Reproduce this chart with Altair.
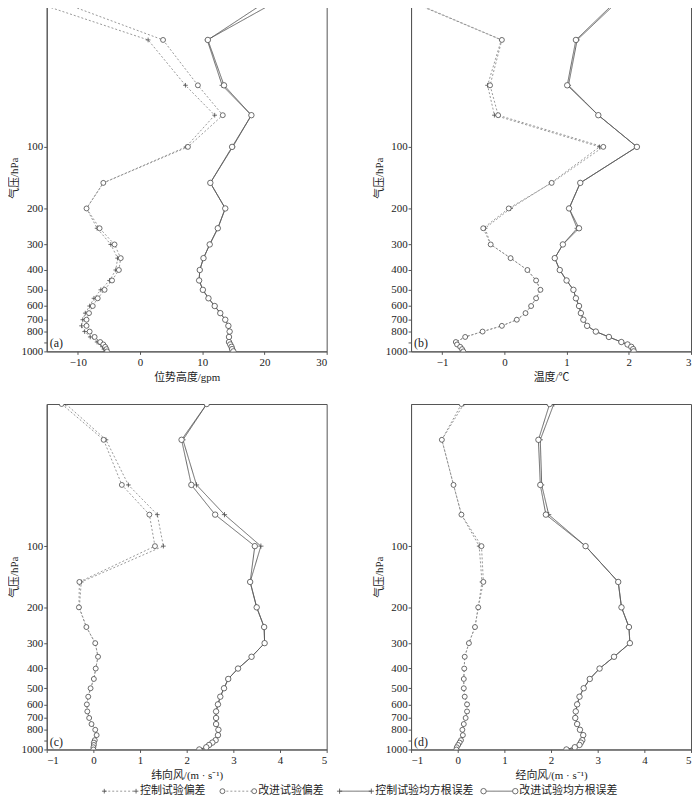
import altair as alt
import pandas as pd

# ---------------- data ----------------
levels = [20, 30, 50, 70, 100, 150, 200, 250, 300, 350, 400, 450, 500, 550,
          600, 650, 700, 750, 800, 850, 900, 925, 950, 975, 1000]

series_names = ["控制试验偏差", "改进试验偏差", "控制试验均方根误差", "改进试验均方根误差"]

# (a) geopotential height (gpm)
ctrl_bias_a = [-16.1, 1.3, 7.3, 12.0, 7.4, -5.9, -8.6, -6.9, -4.7, -3.6, -3.9, -4.9, -6.3, -7.4,
               -8.1, -8.8, -9.2, -9.4, -8.9, -8.0, -6.9, -6.3, -6.0, -5.8, -5.6]
new_bias_a = [-11.9, 3.7, 9.3, 13.3, 7.7, -5.9, -8.6, -6.5, -4.1, -3.1, -3.4, -4.5, -5.7, -6.8,
              -7.6, -8.2, -8.6, -8.6, -8.1, -7.3, -6.4, -5.9, -5.6, -5.4, -5.3]
ctrl_rmse_a = [21.2, 10.8, 13.2, 17.9, 14.9, 11.3, 13.7, 12.5, 11.2, 10.2, 9.6, 9.5, 10.1, 11.0,
               12.0, 12.9, 13.7, 14.2, 14.4, 14.3, 14.3, 14.5, 14.7, 14.8, 15.0]
new_rmse_a = [19.7, 10.9, 13.5, 17.9, 14.8, 11.3, 13.7, 12.5, 11.2, 10.2, 9.6, 9.5, 10.1, 11.0,
              12.0, 12.9, 13.7, 14.2, 14.4, 14.3, 14.3, 14.5, 14.7, 14.8, 15.0]

# (b) temperature (degC)
ctrl_bias_b = [-1.42, -0.05, -0.27, -0.16, 1.53, 0.75, 0.10, -0.31, -0.22, 0.10, 0.37, 0.51, 0.58, 0.51,
               0.43, 0.34, 0.20, -0.04, -0.35, -0.63, -0.78, -0.76, -0.71, -0.68, -0.66]
new_bias_b = [-1.40, -0.04, -0.23, -0.10, 1.59, 0.76, 0.07, -0.34, -0.22, 0.10, 0.37, 0.51, 0.58, 0.51,
              0.43, 0.34, 0.20, -0.04, -0.35, -0.63, -0.78, -0.76, -0.71, -0.68, -0.66]
ctrl_rmse_b = [1.78, 1.17, 1.03, 1.51, 2.13, 1.22, 1.04, 1.17, 0.94, 0.81, 0.89, 1.00, 1.11, 1.15,
               1.20, 1.23, 1.27, 1.33, 1.47, 1.68, 1.88, 1.98, 2.04, 2.07, 2.08]
new_rmse_b = [1.75, 1.15, 1.01, 1.51, 2.13, 1.22, 1.04, 1.20, 0.94, 0.81, 0.89, 1.00, 1.11, 1.15,
              1.20, 1.23, 1.27, 1.33, 1.47, 1.68, 1.88, 1.98, 2.04, 2.07, 2.08]

# (c) zonal wind (m/s)
ctrl_bias_c = [-0.59, 0.27, 0.75, 1.37, 1.50, -0.26, -0.30, -0.15, 0.04, 0.10, 0.05, 0.01, -0.06, -0.11,
               -0.14, -0.13, -0.09, -0.04, 0.04, 0.07, 0.03, 0.01, 0.01, 0.00, 0.00]
new_bias_c = [-0.68, 0.22, 0.61, 1.20, 1.32, -0.30, -0.31, -0.15, 0.04, 0.10, 0.05, 0.01, -0.06, -0.11,
              -0.14, -0.13, -0.09, -0.04, 0.04, 0.07, 0.03, 0.01, 0.01, 0.00, 0.00]
ctrl_rmse_c = [2.43, 1.92, 2.21, 2.81, 3.59, 3.36, 3.50, 3.66, 3.67, 3.39, 3.10, 2.89, 2.80, 2.72,
               2.67, 2.63, 2.63, 2.63, 2.68, 2.67, 2.62, 2.55, 2.48, 2.42, 2.27]
new_rmse_c = [2.43, 1.89, 2.10, 2.61, 3.46, 3.36, 3.50, 3.66, 3.67, 3.39, 3.10, 2.89, 2.80, 2.72,
              2.67, 2.63, 2.63, 2.63, 2.68, 2.67, 2.62, 2.55, 2.48, 2.42, 2.27]

# (d) meridional wind (m/s)
ctrl_bias_d = [0.13, -0.34, -0.09, 0.08, 0.46, 0.52, 0.44, 0.37, 0.24, 0.15, 0.14, 0.13, 0.13, 0.15,
               0.20, 0.20, 0.17, 0.13, 0.10, 0.11, 0.07, 0.04, 0.01, -0.02, -0.03]
new_bias_d = [0.08, -0.34, -0.09, 0.08, 0.51, 0.55, 0.44, 0.37, 0.24, 0.15, 0.14, 0.13, 0.13, 0.15,
              0.20, 0.20, 0.17, 0.13, 0.10, 0.11, 0.07, 0.04, 0.01, -0.02, -0.03]
ctrl_rmse_d = [2.06, 1.77, 1.80, 1.95, 2.74, 3.44, 3.51, 3.67, 3.69, 3.35, 3.04, 2.83, 2.70, 2.61,
               2.56, 2.53, 2.52, 2.56, 2.62, 2.69, 2.67, 2.64, 2.61, 2.51, 2.33]
new_rmse_d = [1.97, 1.73, 1.77, 1.89, 2.74, 3.44, 3.51, 3.67, 3.69, 3.35, 3.04, 2.83, 2.70, 2.61,
              2.56, 2.53, 2.52, 2.56, 2.62, 2.69, 2.67, 2.64, 2.61, 2.51, 2.33]

panel_tags = ["(a)", "(b)", "(c)", "(d)"]
x_titles = ["位势高度/gpm", "温度/℃", "纬向风/(m · s⁻¹)", "经向风/(m · s⁻¹)"]
x_domains = [[-15, 30], [-1.5, 3], [-1, 5], [-1, 5]]
x_ticks = [[-10, 0, 10, 20, 30], [-1, 0, 1, 2, 3], [-1, 0, 1, 2, 3, 4, 5], [-1, 0, 1, 2, 3, 4, 5]]
y_ticks = [100, 200, 300, 400, 500, 600, 700, 800, 900, 1000]
y_title = "气压/hPa"

panel_series = [
    [ctrl_bias_a, new_bias_a, ctrl_rmse_a, new_rmse_a],
    [ctrl_bias_b, new_bias_b, ctrl_rmse_b, new_rmse_b],
    [ctrl_bias_c, new_bias_c, ctrl_rmse_c, new_rmse_c],
    [ctrl_bias_d, new_bias_d, ctrl_rmse_d, new_rmse_d],
]

# ---------------- styles ----------------
FONT = "'Liberation Serif', 'Noto Sans CJK SC', serif"
W = 282
H_ROWS = [350, 348]
line_colors = ["#8c8c8c", "#8c8c8c", "#555555", "#555555"]
dashes = [[2, 2], [2, 2], [1, 0], [1, 0]]
PLUS = "M -1 0 L 1 0 M 0 -1 L 0 1"
shapes = [PLUS, "circle", PLUS, "circle"]
marker_sizes = [22, 30, 22, 30]


def panel(i, h):
    rows = []
    for s, vals in zip(series_names, panel_series[i]):
        for p, v in zip(levels, vals):
            rows.append({"series": s, "p": p, "v": v})
    df = pd.DataFrame(rows)
    x = alt.X("v:Q", scale=alt.Scale(domain=x_domains[i], nice=False, zero=False),
              axis=alt.Axis(values=x_ticks[i], title=x_titles[i], format="d",
                            grid=False, tickSize=3, labelPadding=2, titlePadding=4))
    y = alt.Y("p:Q", scale=alt.Scale(type="log", domain=[20, 1000], reverse=True, nice=False),
              axis=alt.Axis(values=y_ticks, title=y_title, format="d", grid=False,
                            tickSize=3, labelPadding=1, titlePadding=1))
    color = alt.Color("series:N", scale=alt.Scale(domain=series_names, range=line_colors), legend=None)
    dash = alt.StrokeDash("series:N", scale=alt.Scale(domain=series_names, range=dashes), legend=None)
    shp = alt.Shape("series:N", scale=alt.Scale(domain=series_names, range=shapes), legend=None)
    size = alt.Size("series:N", scale=alt.Scale(domain=series_names, range=marker_sizes), legend=None)
    lines = alt.Chart(df).mark_line(strokeWidth=0.9, clip=True).encode(
        x=x, y=y, color=color, strokeDash=dash, detail="series:N", order="p:Q")
    pts = alt.Chart(df).mark_point(fill="white", fillOpacity=1, filled=False, stroke="#4a4a4a",
                                   strokeWidth=0.8, opacity=1, clip=True).encode(
        x=x, y=y, shape=shp, size=size)
    tag = alt.Chart(pd.DataFrame({"t": [panel_tags[i]]})).mark_text(
        align="left", baseline="bottom", font=FONT, fontSize=12, color="#222").encode(
        x=alt.value(3), y=alt.value(h - 1), text="t:N")
    return alt.layer(lines, pts, tag).properties(width=W, height=h)


# ---------------- manual legend ----------------
LW = 600
leg_line_x = [58, 177, 295, 440]   # relative to the left edge of panel (a)
leg_len = 32
leg_rows, leg_pts, leg_txt = [], [], []
for k, s in enumerate(series_names):
    x0 = leg_line_x[k]
    leg_rows.append({"series": s, "x": x0, "x2": x0 + leg_len})
    leg_pts.append({"series": s, "x": x0})
    leg_pts.append({"series": s, "x": x0 + leg_len})
    leg_txt.append({"series": s, "x": x0 + leg_len + 4})
lx = alt.Scale(domain=[0, LW], range=[0, LW])
leg_color = alt.Color("series:N", scale=alt.Scale(domain=series_names, range=line_colors), legend=None)
leg_dash = alt.StrokeDash("series:N", scale=alt.Scale(domain=series_names, range=dashes), legend=None)
leg_shape = alt.Shape("series:N", scale=alt.Scale(domain=series_names, range=shapes), legend=None)
leg_size = alt.Size("series:N", scale=alt.Scale(domain=series_names, range=marker_sizes), legend=None)
leg_lines = alt.Chart(pd.DataFrame(leg_rows)).mark_rule(strokeWidth=0.9).encode(
    x=alt.X("x:Q", scale=lx, axis=None), x2="x2:Q", y=alt.value(6),
    color=leg_color, strokeDash=leg_dash)
leg_marks = alt.Chart(pd.DataFrame(leg_pts)).mark_point(
    fill="white", fillOpacity=1, filled=False, stroke="#4a4a4a", strokeWidth=0.8, opacity=1).encode(
    x=alt.X("x:Q", scale=lx, axis=None), y=alt.value(6), shape=leg_shape, size=leg_size)
leg_text = alt.Chart(pd.DataFrame(leg_txt)).mark_text(
    align="left", baseline="middle", font=FONT, fontSize=11, color="#222").encode(
    x=alt.X("x:Q", scale=lx, axis=None), y=alt.value(6), text="series:N")
legend = alt.layer(leg_lines, leg_marks, leg_text).properties(
    width=LW, height=12, view=alt.ViewBackground(stroke="transparent"))

row1 = alt.hconcat(panel(0, H_ROWS[0]), panel(1, H_ROWS[0]), spacing=45)
row2 = alt.hconcat(panel(2, H_ROWS[1]), panel(3, H_ROWS[1]), spacing=45)
grid = alt.vconcat(row1, row2, spacing=20)

chart = alt.vconcat(grid, legend, spacing=3).properties(
    padding={"left": 0, "top": -8, "right": 0, "bottom": 0}
).configure_view(stroke="#555", strokeWidth=1).configure_axis(
    labelFont=FONT, titleFont=FONT, labelFontSize=11, titleFontSize=11,
    labelColor="#222", titleColor="#222", titleFontWeight="normal",
    domainColor="#555", tickColor="#555"
)

chart.save("out.html", embed_options={"renderer": "svg", "actions": False})
